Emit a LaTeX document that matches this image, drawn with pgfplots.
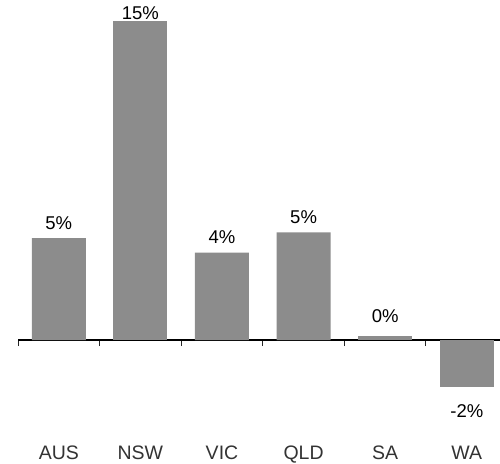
\documentclass[border=0pt]{standalone}
\usepackage{fontspec}
\setmainfont{Liberation Sans}
\usepackage{pgfplots}
\pgfplotsset{compat=1.18}

\definecolor{barGray}{HTML}{8C8C8C}
\definecolor{tickText}{HTML}{333333}

\begin{document}
\begin{tikzpicture}[font=\fontsize{18}{21.6}\selectfont]
\useasboundingbox (0,0) rectangle (500pt,463pt);
\begin{axis}[
  scale only axis,
  width=482pt, height=463pt,
  at={(18pt,0pt)}, anchor=south west,
  xmin=-0.5, xmax=5.407,
  ymin=-5.777, ymax=15.97,
  axis x line*=middle,
  axis y line=none,
  hide obscured x ticks=false,
  x axis line style={black, line width=1.4pt},
  xtick={0,1,2,3,4,5},
  xticklabels={AUS,NSW,VIC,QLD,SA,WA},
  major tick length=0pt,
  minor xtick={-0.5,0.5,1.5,2.5,3.5,4.5},
  minor tick length=6pt,
  xtick align=outside,
  minor x tick style={black!85, line width=1pt},
  xticklabel style={text=tickText, font=\fontsize{19.5}{23}\selectfont,
    anchor=base, yshift=-119pt},
  /pgf/number format/assume math mode=true,
  ybar, bar width=54pt,
  clip=false,
  nodes near coords={\pgfmathprintnumber[fixed,precision=0]{\pgfplotspointmeta}\%},
  every node near coord/.append style={text=black, inner sep=0pt,
    font=\fontsize{18.5}{22}\selectfont},
]
% growth by state, positive bars with the label just above the bar top
\addplot[draw=none, fill=barGray, bar shift=0pt,
  every node near coord/.append style={anchor=south, yshift=8.5pt}]
  coordinates {(0,4.78) (2,4.10) (3,5.06)};
% SA: a sliver of a bar, label set a little higher
\addplot[draw=none, fill=barGray, bar shift=0pt,
  every node near coord/.append style={anchor=south, yshift=14pt}]
  coordinates {(4,0.17)};
% NSW: label sits right on the bar top
\addplot[draw=none, fill=barGray, bar shift=0pt,
  every node near coord/.append style={anchor=south, yshift=1pt}]
  coordinates {(1,15.0)};
% WA: negative, label below the bar
\addplot[draw=none, fill=barGray, bar shift=0pt,
  every node near coord/.append style={anchor=north, yshift=-17pt}]
  coordinates {(5,-2.22)};
\end{axis}
\end{tikzpicture}
\end{document}
